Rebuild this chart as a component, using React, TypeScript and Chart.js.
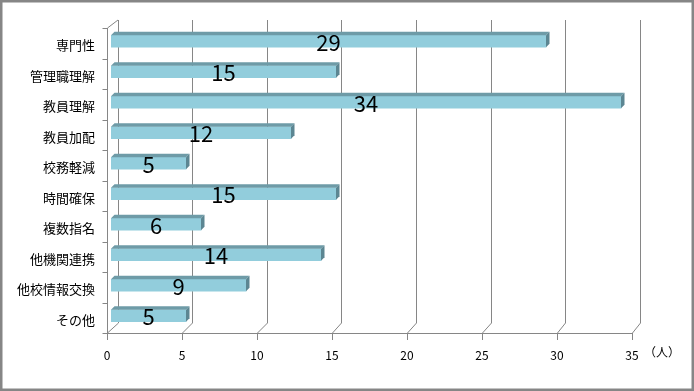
import React, { useEffect, useRef } from "react";
import { Chart, registerables } from "chart.js";

Chart.register(...registerables);

const categories = ["専門性", "管理職理解", "教員理解", "教員加配", "校務軽減", "時間確保", "複数指名", "他機関連携", "他校情報交換", "その他"];
const values = [29, 15, 34, 12, 5, 15, 6, 14, 9, 5];
const xTickValues = [0, 5, 10, 15, 20, 25, 30, 35];
const unitLabel = "（人）";

const FONT = "'Noto Sans CJK JP', 'Noto Sans', sans-serif";
const GRID = "#868686";
const BAR_SHIFT = -2;

const frame3d = {
  id: "frame3d",
  beforeDraw(chart: any) {
    const ctx = chart.ctx;
    ctx.save();
    ctx.fillStyle = "#ffffff";
    ctx.fillRect(0, 0, chart.width, chart.height);
    ctx.restore();
  },
  beforeDatasetsDraw(chart: any) {
    const ctx = chart.ctx;
    const xs = chart.scales.x;
    const area = chart.chartArea;
    const bottom = area.bottom;
    const top = area.top;
    const backTop = top - 8;
    const backBottom = bottom - 10;
    ctx.save();
    ctx.strokeStyle = GRID;
    ctx.lineWidth = 1;
    xTickValues.forEach((v) => {
      const s = xs.getPixelForValue(v);
      const front = Math.round(s - 4) + 0.5;
      const back = Math.round(s + 6.5 - v * 0.07) + 0.5;
      ctx.beginPath();
      ctx.moveTo(back, backTop);
      ctx.lineTo(back, backBottom);
      ctx.lineTo(front, bottom);
      ctx.lineTo(front, bottom + 7);
      ctx.stroke();
    });
    const f0 = Math.round(xs.getPixelForValue(xTickValues[0]) - 4) + 0.5;
    const f1 = Math.round(xs.getPixelForValue(xTickValues[xTickValues.length - 1]) - 4) + 0.5;
    ctx.beginPath();
    ctx.moveTo(f0, bottom + 0.5);
    ctx.lineTo(f1, bottom + 0.5);
    ctx.stroke();
    ctx.beginPath();
    ctx.moveTo(f0 + 10.5, backTop);
    ctx.lineTo(f0, top);
    ctx.lineTo(f0, bottom);
    ctx.stroke();
    const n = categories.length;
    for (let i = 0; i <= n; i++) {
      const y = Math.round(top + ((bottom - top) * i) / n) + 0.5;
      ctx.beginPath();
      ctx.moveTo(f0 - 5, y);
      ctx.lineTo(f0, y);
      ctx.stroke();
    }
    ctx.restore();
  },
  beforeDatasetDraw(chart: any) {
    chart.ctx.save();
    chart.ctx.translate(0, BAR_SHIFT);
  },
  afterDatasetDraw(chart: any) {
    chart.ctx.restore();
  },
  afterDatasetsDraw(chart: any) {
    const ctx = chart.ctx;
    const meta = chart.getDatasetMeta(0);
    const d = 3.5;
    ctx.save();
    meta.data.forEach((bar: any, i: number) => {
      const { x, y: y0, base, height } = bar.getProps(["x", "y", "base", "height"], true);
      const y = y0 + BAR_SHIFT;
      const t = y - height / 2;
      const b = y + height / 2;
      ctx.fillStyle = "#6E9BA7";
      ctx.beginPath();
      ctx.moveTo(base, t);
      ctx.lineTo(base + d, t - d);
      ctx.lineTo(x + d, t - d);
      ctx.lineTo(x, t);
      ctx.closePath();
      ctx.fill();
      ctx.fillStyle = "#5C8692";
      ctx.beginPath();
      ctx.moveTo(x, t);
      ctx.lineTo(x + d, t - d);
      ctx.lineTo(x + d, b - d);
      ctx.lineTo(x, b);
      ctx.closePath();
      ctx.fill();
      ctx.fillStyle = "#000000";
      ctx.font = `22px ${FONT}`;
      ctx.textAlign = "center";
      ctx.textBaseline = "middle";
      ctx.fillText(String(values[i]), (base + x) / 2, y + 1);
    });
    const xs = chart.scales.x;
    ctx.font = `12px ${FONT}`;
    ctx.fillStyle = "#000000";
    ctx.textAlign = "left";
    ctx.textBaseline = "middle";
    ctx.fillText(unitLabel, xs.getPixelForValue(35) + 8, chart.chartArea.bottom + 19);
    ctx.strokeStyle = GRID;
    ctx.lineWidth = 2.5;
    ctx.strokeRect(1.25, 1.25, chart.width - 2.5, chart.height - 2.5);
    ctx.restore();
  },
};

export default function App() {
  const ref = useRef<HTMLCanvasElement>(null);
  useEffect(() => {
    document.body.style.margin = "0";
    const canvas = ref.current!;
    const chart = new Chart(canvas, {
      type: "bar",
      data: {
        labels: categories,
        datasets: [
          {
            data: values,
            backgroundColor: "#92CDDC",
            borderWidth: 0,
            barThickness: 12,
          },
        ],
      },
      options: {
        indexAxis: "y",
        responsive: false,
        animation: false,
        devicePixelRatio: 1,
        layout: { padding: { top: 28, right: 58, left: 0, bottom: 0 } },
        plugins: { legend: { display: false }, tooltip: { enabled: false } },
        scales: {
          x: {
            min: 0,
            max: 35,
            afterFit(scale: any) {
              scale.height = 58;
            },
            afterBuildTicks(scale: any) {
              scale.ticks = xTickValues.map((v) => ({ value: v }));
            },
            grid: { display: false, drawTicks: false },
            border: { display: false },
            ticks: {
              labelOffset: -4,
              padding: 15,
              color: "#000000",
              font: { family: FONT, size: 12 },
            },
          },
          y: {
            afterFit(scale: any) {
              scale.width = 111;
            },
            grid: { display: false, drawTicks: false },
            border: { display: false },
            ticks: {
              padding: 16,
              labelOffset: 2,
              color: "#000000",
              font: { family: FONT, size: 13 },
            },
          },
        },
      },
      plugins: [frame3d],
    } as any);
    return () => chart.destroy();
  }, []);
  return (
    <div style={{ width: 694, height: 391 }}>
      <canvas ref={ref} width={694} height={391} style={{ display: "block" }} />
    </div>
  );
}
